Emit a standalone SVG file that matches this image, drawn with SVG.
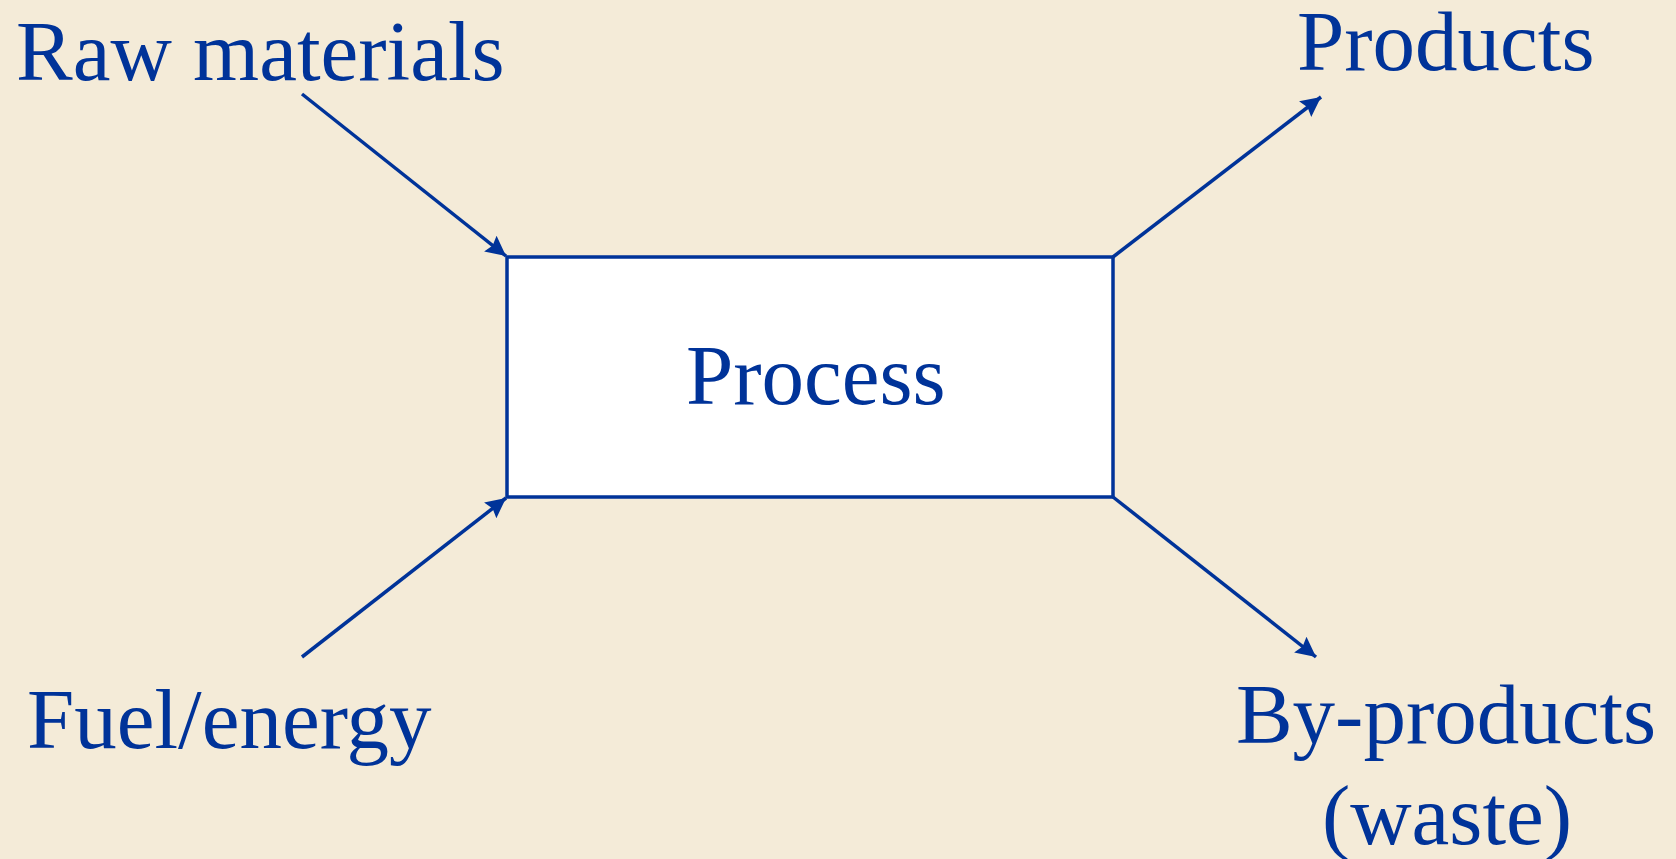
<svg xmlns="http://www.w3.org/2000/svg" width="1676" height="859" viewBox="0 0 1676 859">
<style>
.lbl{font-family:"Liberation Serif","Times New Roman",serif;font-size:85px;fill:#003399}
.conn{stroke:#003399;stroke-width:3.5;fill:none}
</style>
<defs>
<marker id="arr" markerUnits="userSpaceOnUse" markerWidth="24" markerHeight="22" refX="20" refY="10" orient="auto">
<path d="M0,0 L20,10 L0,20 L3,10 Z" fill="#003399"/>
</marker>
</defs>
<rect x="0" y="0" width="1676" height="859" fill="#F4EBD8"/>
<g id="connectors">
<line class="conn" x1="302" y1="94" x2="506" y2="256" marker-end="url(#arr)"/>
<line class="conn" x1="302" y1="657" x2="506" y2="498" marker-end="url(#arr)"/>
<line class="conn" x1="1113" y1="257" x2="1321" y2="97" marker-end="url(#arr)"/>
<line class="conn" x1="1113" y1="497" x2="1316" y2="657" marker-end="url(#arr)"/>
</g>
<g id="process">
<rect x="507" y="257" width="606" height="240" fill="#FFFFFF" stroke="#003399" stroke-width="3.5"/>
<text class="lbl" x="686" y="404">Process</text>
</g>
<g id="raw-materials"><text class="lbl" x="16" y="80">Raw materials</text></g>
<g id="fuel-energy"><text class="lbl" x="27" y="748">Fuel/energy</text></g>
<g id="products"><text class="lbl" x="1297" y="70">Products</text></g>
<g id="by-products">
<text class="lbl" x="1446" y="743" text-anchor="middle">By-products</text>
<text class="lbl" x="1447" y="844" text-anchor="middle">(waste)</text>
</g>
</svg>
